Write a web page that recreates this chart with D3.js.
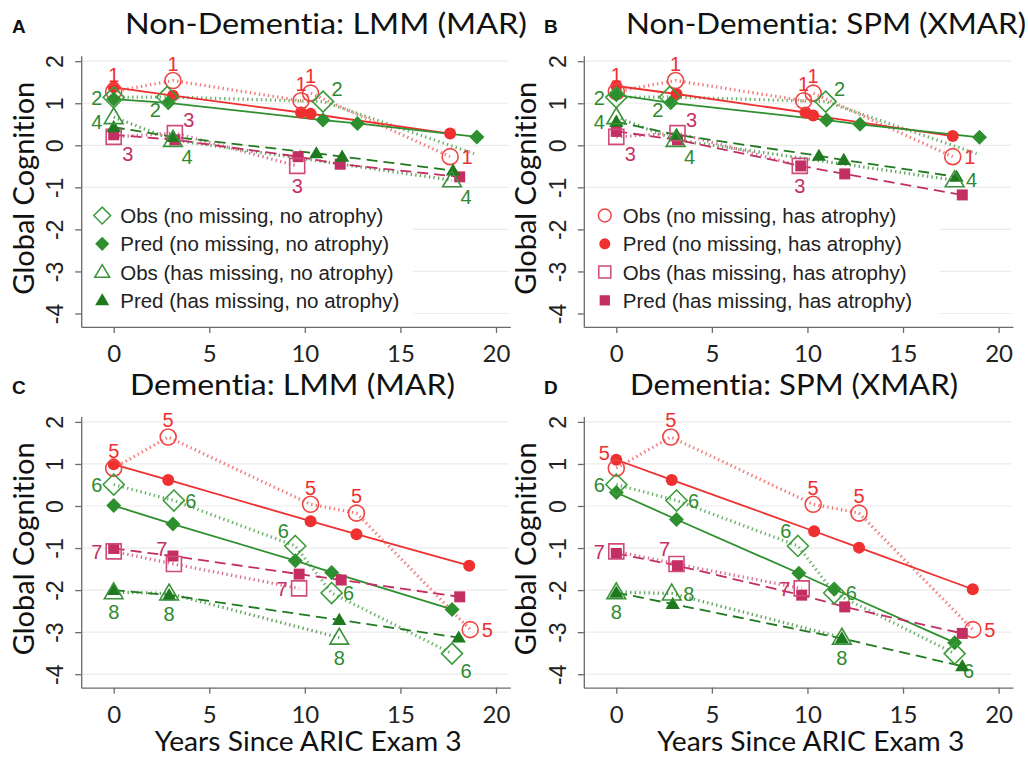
<html>
<head>
<meta charset="utf-8">
<script src="https://cdn.jsdelivr.net/npm/d3@7"></script>
<style>
  body { margin: 0; background: #fff; }
  text { font-variant-ligatures: none; }
</style>
</head>
<body>
<script>
// ---- data: [years since exam 3, global cognition] ----
const xTicks = [0, 5, 10, 15, 20];
const yTicks = [-4, -3, -2, -1, 0, 1, 2];

// observed means (same in both models of a group)
const nonDemObsCircle = [[0, 1.28], [3.1, 1.54], [9.8, 1.06], [10.3, 1.24], [17.6, -0.27]];
const nonDemObsDiamond = [[0, 1.14], [2.8, 1.15], [10.95, 1.04], [18.85, -0.2]];
const nonDemObsSquare = [[0, 0.2], [3.2, 0.29], [9.6, -0.49]];
const nonDemObsTriangle = [[0, 0.67], [3.1, 0.13], [17.7, -0.83]];

const demObsCircle = [[0, 0.9], [2.85, 1.64], [10.3, 0.04], [12.7, -0.17], [18.65, -2.94]];
const demObsDiamond = [[0, 0.51], [3.15, 0.13], [9.5, -0.95], [11.4, -2.07], [17.7, -3.51]];
const demObsSquare = [[0, -1.08], [3.15, -1.38], [9.7, -1.96]];
const demObsTriangle = [[0, -2.05], [2.9, -2.08], [11.8, -3.13]];

// model predictions
const A_predCircle = [[0, 1.38], [3.1, 1.18], [9.8, 0.78], [10.3, 0.75], [17.6, 0.28]];
const A_predDiamond = [[0, 1.1], [2.85, 1.01], [10.95, 0.6], [12.75, 0.52], [19, 0.2]];
const A_predSquare = [[0, 0.25], [3.2, 0.13], [9.65, -0.27], [11.85, -0.45], [18.1, -0.75]];
const A_predTriangle = [[0, 0.43], [3.1, 0.2], [10.6, -0.19], [11.95, -0.27], [17.75, -0.6]];

const B_predCircle = [[0, 1.41], [3.15, 1.22], [9.9, 0.78], [10.3, 0.71], [17.6, 0.22]];
const B_predDiamond = [[0, 1.2], [2.85, 1.01], [11, 0.6], [12.75, 0.5], [19, 0.19]];
const B_predSquare = [[0, 0.33], [3.2, 0.13], [9.65, -0.49], [11.95, -0.68], [18.1, -1.18]];
const B_predTriangle = [[0, 0.56], [3.15, 0.25], [10.6, -0.25], [11.9, -0.35], [17.8, -0.75]];

const C_predCircle = [[0, 0.99], [2.85, 0.62], [10.3, -0.36], [12.7, -0.67], [18.6, -1.42]];
const C_predDiamond = [[0, 0.01], [3.1, -0.43], [9.5, -1.3], [11.4, -1.58], [17.7, -2.46]];
const C_predSquare = [[0, -1.01], [3.1, -1.19], [9.7, -1.62], [11.9, -1.76], [18.1, -2.16]];
const C_predTriangle = [[0, -2.0], [2.9, -2.12], [11.8, -2.71], [18.05, -3.13]];

const D_predCircle = [[0, 1.1], [2.9, 0.62], [10.35, -0.6], [12.7, -0.99], [18.65, -1.98]];
const D_predDiamond = [[0, 0.32], [3.15, -0.32], [9.55, -1.6], [11.4, -1.98], [17.7, -3.25]];
const D_predSquare = [[0, -1.13], [3.2, -1.42], [9.7, -2.12], [11.95, -2.4], [18.1, -3.03]];
const D_predTriangle = [[0, -2.06], [2.95, -2.33], [11.8, -3.15], [18.1, -3.81]];

const legendGreen = ["Obs (no missing, no atrophy)", "Pred (no missing, no atrophy)",
                     "Obs (has missing, no atrophy)", "Pred (has missing, no atrophy)"];
const legendRed = ["Obs (no missing, has atrophy)", "Pred (no missing, has atrophy)",
                   "Obs (has missing, has atrophy)", "Pred (has missing, has atrophy)"];

// where the group number sits next to each observed point (null = no marker)
const labelsNonDemA = { circle: ["n", "n", "n", "n", "e"], diamond: ["w", "sw", "ne", null],
                        square: ["se", "ne", "s"], triangle: ["wsw", "se", "se"] };
const labelsNonDemB = { circle: ["n", "n", "n", "n", "e"], diamond: ["w", "sw", "ne", null],
                        square: ["se", "ne", "s"], triangle: ["wsw", "se", "e"] };
const labelsDemC = { circle: ["n", "n", "n", "n", "e"], diamond: ["w", "e", "nw", "e", "se"],
                     square: ["w", "nw", "w"], triangle: ["s", "s", "s"] };
const labelsDemD = { circle: ["nw", "n", "n", "n", "e"], diamond: ["w", "e", "nw", "e", "se"],
                     square: ["w", "nw", "w"], triangle: ["s", "e", "s"] };

// ---- styles ----
const col = {
  circle:   { obs: "#f04545", pred: "#ee3030", line: "#f27a7a" },
  diamond:  { obs: "#3b9c3b", pred: "#2e8f2e", line: "#6cb36c" },
  square:   { obs: "#d04a7c", pred: "#c42f63", line: "#d87396" },
  triangle: { obs: "#3a923a", pred: "#1f7a1f", line: "#62a662" }
};
const predDash = { circle: null, diamond: null, square: "11,6", triangle: "11,6" };
const labelOff = { n: [0, -17], s: [0, 20], e: [17, 0], w: [-17, 0], wsw: [-17, 5],
                   nw: [-12, -15], ne: [14, -13], se: [14, 17], sw: [-12, 13] };

const ARIAL = "'Liberation Sans', Arial, sans-serif";
const CALIBRI = "Lato, 'Open Sans', sans-serif";
const kx = 19.115, ky = 42.05;

const width = 1028, height = 757;
const svg = d3.select("body").append("svg")
    .attr("width", width)
    .attr("height", height)
    .style("background", "#fff")
    .style("font-family", ARIAL);

function shape(type, filled, s) {
  // s = overall size in px
  const h = s / 2;
  if (type === "circle") {
    const p = d3.path(); p.arc(0, 0, h, 0, 2 * Math.PI); return p.toString();
  }
  if (type === "diamond") return `M0,${-h}L${h},0L0,${h}L${-h},0Z`;
  if (type === "square") return `M${-h},${-h}H${h}V${h}H${-h}Z`;
  // triangle
  const t = s * 0.55;
  return `M0,${-t}L${s * 0.55},${t * 0.7}L${-s * 0.55},${t * 0.7}Z`;
}
const sizes = {
  circle: { o: 16, f: 12 }, diamond: { o: 21, f: 15 },
  square: { o: 15, f: 11 }, triangle: { o: 17, f: 13 }
};

function drawPanel(p) {
  const g = svg.append("g");
  const x = d3.scaleLinear().domain([-1.7, 20.75])
      .range([p.x0 - 1.7 * kx, p.x0 + 20.75 * kx]);
  const y = d3.scaleLinear().domain([2.13, -4.32])
      .range([p.y0 - 0.13 * ky, p.y0 + 6.32 * ky]);

  // gridlines
  g.append("g").selectAll("line").data(yTicks).join("line")
      .attr("x1", x(-1.7) + 1).attr("x2", x(20.65))
      .attr("y1", d => y(d)).attr("y2", d => y(d))
      .attr("stroke", "#ebebeb").attr("stroke-width", 1.2);

  // legend box hides the grid behind it
  if (p.legend) {
    const lg = g.append("g");
    lg.append("rect")
        .attr("x", x(-1.7) + 1).attr("y", y(-1.29))
        .attr("width", p.legendW).attr("height", y(-4.2) - y(-1.29))
        .attr("fill", "#fff");
    const keys = p.legendKeys;
    p.legend.forEach((txt, i) => {
      const ly = y(-1.67) + i * 28.3;
      const k = keys[i];
      const filled = i % 2 === 1;
      lg.append("path")
          .attr("d", shape(k, filled, sizes[k][filled ? "f" : "o"] * 0.8))
          .attr("transform", `translate(${x(-1.7) + 21},${ly})`)
          .attr("fill", filled ? col[k].pred : "none")
          .attr("stroke", filled ? col[k].pred : col[k].obs)
          .attr("stroke-width", 1.5);
      lg.append("text")
          .attr("x", x(-1.7) + 39).attr("y", ly)
          .attr("dy", "0.36em")
          .attr("font-size", 20.5)
          .attr("fill", "#222")
          .text(txt);
    });
  }

  // y axis
  const ya = g.append("g")
      .attr("transform", `translate(${x(-1.7)},0)`)
      .call(d3.axisLeft(y).tickValues(yTicks).tickSize(6).tickSizeOuter(0).tickFormat(d => String(d)));
  ya.selectAll("text")
      .attr("x", null).attr("dy", null)
      .attr("text-anchor", "middle")
      .attr("transform", "translate(-18,0) rotate(-90)")
      .attr("font-size", 23)
      .style("font-family", ARIAL)
      .attr("fill", "#222");

  // x axis
  const xa = g.append("g")
      .attr("transform", `translate(0,${y(-4.32)})`)
      .call(d3.axisBottom(x).tickValues(xTicks).tickSize(6).tickSizeOuter(0));
  xa.selectAll("text")
      .attr("y", 35).attr("dy", null)
      .attr("font-size", 24)
      .style("font-family", CALIBRI)
      .attr("fill", "#222");
  g.selectAll(".domain, .tick line").attr("stroke", "#6a6a6a").attr("stroke-width", 1.3);

  const line = d3.line().x(d => x(d[0])).y(d => y(d[1]));

  // observed: dotted lines
  p.series.forEach(s => {
    g.append("path").datum(s.obs)
        .attr("d", line)
        .attr("fill", "none")
        .attr("stroke", col[s.type].line)
        .attr("stroke-width", 3.2)
        .attr("stroke-dasharray", "1.4,3.2");
  });
  // predicted lines
  p.series.forEach(s => {
    g.append("path").datum(s.pred)
        .attr("d", line)
        .attr("fill", "none")
        .attr("stroke", col[s.type].pred)
        .attr("stroke-width", 1.8)
        .attr("stroke-dasharray", predDash[s.type]);
  });
  // markers
  p.series.forEach(s => {
    g.append("g").selectAll("path").data(s.pred).join("path")
        .attr("d", shape(s.type, true, sizes[s.type].f))
        .attr("transform", d => `translate(${x(d[0])},${y(d[1])})`)
        .attr("fill", col[s.type].pred);
    g.append("g").selectAll("path").data(s.obs.filter((d, i) => s.labels[i])).join("path")
        .attr("d", shape(s.type, false, sizes[s.type].o))
        .attr("transform", d => `translate(${x(d[0])},${y(d[1])})`)
        .attr("fill", "none")
        .attr("stroke", col[s.type].obs)
        .attr("stroke-width", 1.6);
    g.append("g").selectAll("text").data(s.obs.map((d, i) => [d, s.labels[i]]).filter(d => d[1])).join("text")
        .attr("x", d => x(d[0][0]) + labelOff[d[1]][0])
        .attr("y", d => y(d[0][1]) + labelOff[d[1]][1])
        .attr("dy", "0.36em")
        .attr("text-anchor", "middle")
        .attr("font-size", 20)
        .attr("fill", s.type === "triangle" || s.type === "diamond" ? "#2f8a2f" : col[s.type].pred)
        .text(s.num);
  });

  // panel letter and title
  svg.append("text")
      .attr("x", p.letterX).attr("y", p.y0 - 28)
      .attr("font-size", 19).attr("font-weight", "bold").attr("fill", "#111")
      .text(p.id);
  svg.append("text")
      .attr("x", p.titleX).attr("y", p.y0 - 27)
      .attr("textLength", p.titleW).attr("lengthAdjust", "spacingAndGlyphs")
      .style("font-family", CALIBRI)
      .attr("font-size", 28).attr("fill", "#111")
      .text(p.title);
  svg.append("text")
      .attr("transform", `translate(${p.x0 - 80},${p.y0 + 127}) rotate(-90)`)
      .attr("text-anchor", "middle")
      .style("font-family", CALIBRI)
      .attr("font-size", 29).attr("fill", "#111")
      .text("Global Cognition");
  if (p.xTitle) {
    svg.append("text")
        .attr("x", p.x0 + 41).attr("y", y(-4.32) + 63)
        .attr("textLength", 307).attr("lengthAdjust", "spacingAndGlyphs")
        .style("font-family", CALIBRI)
        .attr("font-size", 26).attr("fill", "#111")
        .text("Years Since ARIC Exam 3");
  }
}

function group(obs, pred, nums, labels) {
  const types = ["circle", "diamond", "square", "triangle"];
  return types.map((t, i) => ({ type: t, obs: obs[i], pred: pred[i], num: nums[i], labels: labels[t] }));
}
const nonDemObs = [nonDemObsCircle, nonDemObsDiamond, nonDemObsSquare, nonDemObsTriangle];
const demObs = [demObsCircle, demObsDiamond, demObsSquare, demObsTriangle];

const panels = [
  { id: "A", title: "Non-Dementia:  LMM (MAR)", x0: 113.7, y0: 145.3 - 2 * ky, titleX: 125, titleW: 402, letterX: 12,
    series: group(nonDemObs, [A_predCircle, A_predDiamond, A_predSquare, A_predTriangle], ["1", "2", "3", "4"], labelsNonDemA),
    legend: legendGreen, legendKeys: ["diamond", "diamond", "triangle", "triangle"], legendW: 331 },
  { id: "B", title: "Non-Dementia:  SPM (XMAR)", x0: 616.3, y0: 145.3 - 2 * ky, titleX: 626, titleW: 400, letterX: 544,
    series: group(nonDemObs, [B_predCircle, B_predDiamond, B_predSquare, B_predTriangle], ["1", "2", "3", "4"], labelsNonDemB),
    legend: legendRed, legendKeys: ["circle", "circle", "square", "square"], legendW: 355 },
  { id: "C", title: "Dementia:  LMM (MAR)", x0: 113.7, y0: 506 - 2 * ky, titleX: 130, titleW: 325, letterX: 12, xTitle: true,
    series: group(demObs, [C_predCircle, C_predDiamond, C_predSquare, C_predTriangle], ["5", "6", "7", "8"], labelsDemC) },
  { id: "D", title: "Dementia:  SPM (XMAR)", x0: 616.3, y0: 506 - 2 * ky, titleX: 630, titleW: 328, letterX: 544, xTitle: true,
    series: group(demObs, [D_predCircle, D_predDiamond, D_predSquare, D_predTriangle], ["5", "6", "7", "8"], labelsDemD) }
];
panels.forEach(drawPanel);
</script>
</body>
</html>
